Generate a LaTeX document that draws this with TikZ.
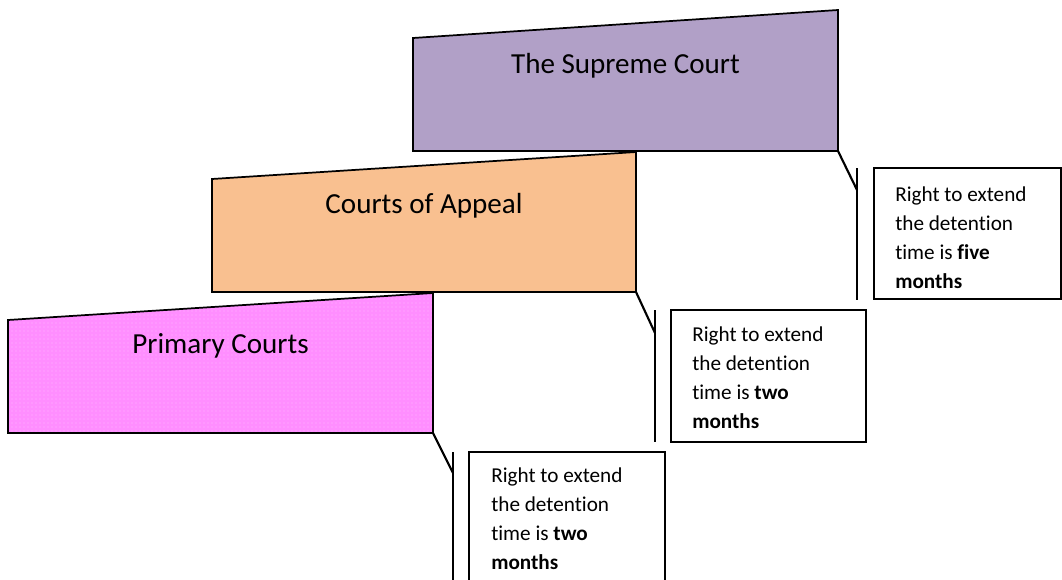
\documentclass[tikz,border=0pt]{standalone}
\usepackage{fontspec}
\setmainfont{Carlito}[Ligatures=NoCommon]
\usetikzlibrary{patterns}
\definecolor{supremefill}{HTML}{B1A0C7}
\definecolor{appealfill}{HTML}{F9C090}
\definecolor{primaryfill}{HTML}{FF8EFF}

% four lines of the note text, one node per line
\newcommand\notetext[4]{%
  \node[noteline] (#1-1) at (#2,#3) {Right to extend};
  \node[noteline] (#1-2) at (#2,#3+29) {the detention};
  \node[noteline] (#1-3) at (#2,#3+58) {time is \textbf{#4}};
  \node[noteline] (#1-4) at (#2,#3+87) {\textbf{months}};
}

\begin{document}
\begin{tikzpicture}[x=0.75pt,y=-0.75pt,
  court/.style={draw=black,line width=1.3pt,line join=miter},
  courttitle/.style={font=\fontsize{21.8}{26}\selectfont,anchor=base,inner sep=0pt},
  leader/.style={draw=black,line width=1.6pt},
  accentbar/.style={draw=black,line width=1.5pt},
  notebox/.style={draw=black,line width=1.2pt,fill=white},
  noteline/.style={font=\fontsize{15.9}{19}\selectfont,anchor=base west,inner sep=0pt}]

\clip (0,0) rectangle (1062,579);

% ---- court shapes (sloped top edge) ----
\coordinate (sc-tl) at (413,38);
\coordinate (sc-tr) at (838,10);
\coordinate (sc-br) at (838,151);
\coordinate (sc-bl) at (413,151);

\coordinate (ca-tl) at (212,179);
\coordinate (ca-tr) at (636,152);
\coordinate (ca-br) at (636,292);
\coordinate (ca-bl) at (212,292);

\coordinate (pc-tl) at (8,320);
\coordinate (pc-tr) at (433,293);
\coordinate (pc-br) at (433,433);
\coordinate (pc-bl) at (8,433);

\path[court,fill=supremefill] (sc-tl) -- (sc-tr) -- (sc-br) -- (sc-bl) -- cycle;
\path[court,fill=appealfill] (ca-tl) -- (ca-tr) -- (ca-br) -- (ca-bl) -- cycle;
\path[fill=primaryfill] (pc-tl) -- (pc-tr) -- (pc-br) -- (pc-bl) -- cycle;
\path[pattern=dots,pattern color=white,opacity=0.35] (pc-tl) -- (pc-tr) -- (pc-br) -- (pc-bl) -- cycle;
\path[court] (pc-tl) -- (pc-tr) -- (pc-br) -- (pc-bl) -- cycle;

\node[courttitle] (sc) at (625.5,73) {The Supreme Court};
\node[courttitle] (ca) at (424,213) {Courts of Appeal};
\node[courttitle] (pc) at (220.5,353) {Primary Courts};

% ---- callouts: leader, accent bar, text box ----
\coordinate (sc-bar-top) at (857,168);
\coordinate (sc-bar-bot) at (857,300);
\coordinate (sc-hook) at (857,190);
\draw[accentbar] (sc-bar-top) -- (sc-bar-bot);
\draw[leader] (sc-br) -- (sc-hook);
\draw[notebox] (874,168) rectangle (1061,299);
\notetext{sc-note}{895}{201}{five}

\coordinate (ca-bar-top) at (655,310);
\coordinate (ca-bar-bot) at (655,442);
\coordinate (ca-hook) at (655,333);
\draw[accentbar] (ca-bar-top) -- (ca-bar-bot);
\draw[leader] (ca-br) -- (ca-hook);
\draw[notebox] (671,310) rectangle (866,442);
\notetext{ca-note}{692}{341}{two}

\coordinate (pc-bar-top) at (453,452);
\coordinate (pc-bar-bot) at (453,590);
\coordinate (pc-hook) at (453,473);
\draw[accentbar] (pc-bar-top) -- (pc-bar-bot);
\draw[leader] (pc-br) -- (pc-hook);
\draw[notebox] (469,452) rectangle (665,600);
\notetext{pc-note}{491}{482}{two}

\end{tikzpicture}
\end{document}
